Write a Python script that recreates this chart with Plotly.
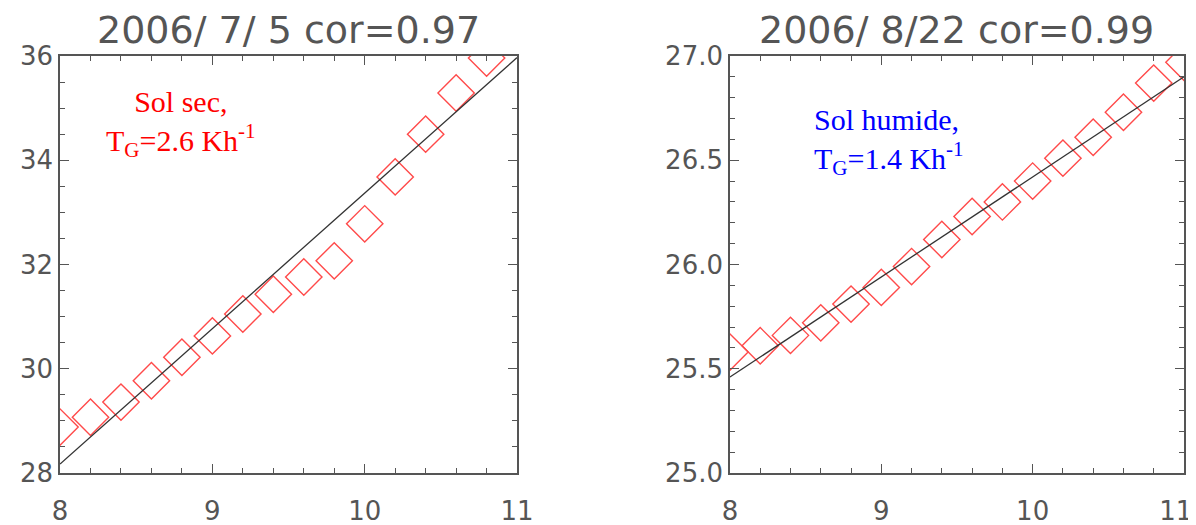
import numpy as np
import plotly.graph_objects as go
from plotly.subplots import make_subplots


## Datos
heures_sec = [8.0, 8.2, 8.4, 8.6, 8.8, 9.0, 9.2, 9.4, 9.6, 9.8, 10.0, 10.2, 10.4, 10.6, 10.8]
temp_sec = [28.88, 29.07, 29.36, 29.77, 30.22, 30.63, 31.05, 31.43, 31.76, 32.07, 32.78, 33.68, 34.50, 35.29, 35.96]
fit_x_sec = [8.0, 11.0]
fit_y_sec = [28.17, 35.97]

heures_hum = [8.0, 8.2, 8.4, 8.6, 8.8, 9.0, 9.2, 9.4, 9.6, 9.8, 10.0, 10.2, 10.4, 10.6, 10.8, 11.0]
temp_hum = [25.58, 25.61, 25.66, 25.72, 25.81, 25.89, 25.99, 26.12, 26.23, 26.30, 26.40, 26.51, 26.61, 26.73, 26.87, 26.97]
fit_x_hum = [8.0, 11.0]
fit_y_hum = [25.46, 26.90]

titres = ["2006/ 7/ 5 cor=0.97", "2006/ 8/22 cor=0.99"]
x_ticks = [8, 9, 10, 11]
# le dernier label colle au bord droit de l'image
x_labels_hum = ["8", "9", "10", "11\u00a0\u00a0"]
y_ticks_sec = [28, 30, 32, 34, 36]
y_ticks_hum = [25.0, 25.5, 26.0, 26.5, 27.0]

GRIS = '#555555'
ROUGE = '#ff4a4a'

# la page ajoute 8px de marge autour de la figure
W, H = 1188, 517


def add_panel(fig, col, x, y, fx, fy):
  fig.add_trace(go.Scatter(x=x, y=y, mode='markers',
                           marker=dict(symbol='diamond-open', size=28,
                                       color=ROUGE, line=dict(color=ROUGE, width=1.4))),
                row=1, col=col)
  fig.add_trace(go.Scatter(x=fx, y=fy, mode='lines',
                           line=dict(color='#333333', width=1.3)),
                row=1, col=col)


fig = make_subplots(rows=1, cols=2)
add_panel(fig, 1, heures_sec, temp_sec, fit_x_sec, fit_y_sec)
add_panel(fig, 2, heures_hum, temp_hum, fit_x_hum, fit_y_hum)

axe = dict(showgrid=False, zeroline=False, showline=True, linecolor=GRIS, linewidth=1.5,
           mirror='allticks', ticks='inside', ticklen=9, tickwidth=1.3, tickcolor=GRIS,
           automargin=False, ticklabeloverflow='allow',
           tickfont=dict(family='DejaVu Sans', size=26, color=GRIS))

fig.update_xaxes(axe, range=[8, 11], tickvals=x_ticks, ticklabelstandoff=14,
                 minor=dict(ticks='inside', ticklen=5, dtick=0.2, tickcolor=GRIS, showgrid=False))
fig.update_yaxes(axe, ticklabelstandoff=0)
fig.update_xaxes(domain=[0.0438, 0.4285], row=1, col=1)
fig.update_xaxes(domain=[0.6077, 0.9899], ticktext=x_labels_hum, row=1, col=2)
fig.update_yaxes(domain=[0.1006, 0.9072])
fig.update_yaxes(range=[28, 36], tickvals=y_ticks_sec,
                 minor=dict(ticks='inside', ticklen=5, dtick=0.5, tickcolor=GRIS, showgrid=False),
                 row=1, col=1)
fig.update_yaxes(range=[25, 27], tickvals=y_ticks_hum, tickformat='.1f',
                 minor=dict(ticks='inside', ticklen=5, dtick=0.1, tickcolor=GRIS, showgrid=False),
                 row=1, col=2)

# titres au-dessus de chaque panneau
for i, t in enumerate(titres):
  fig.add_annotation(text=t, xref='x%s domain' % ('' if i == 0 else '2'), yref='paper',
                     x=0.5, y=0.9574, xanchor='center', yanchor='middle', showarrow=False,
                     font=dict(family='DejaVu Sans', size=38, color=GRIS))

fig.add_annotation(text='Sol sec,<br>T<sub>G</sub>=2.6 Kh<sup>-1</sup>',
                   xref='x domain', yref='y domain', x=0.265, y=0.839,
                   xanchor='center', yanchor='middle',
                   showarrow=False, align='center',
                   font=dict(family='Liberation Serif', size=30, color='#ff0000'))
fig.add_annotation(text='Sol humide,<br>T<sub>G</sub>=1.4 Kh<sup>-1</sup>',
                   xref='x2 domain', yref='y2 domain', x=0.18, y=0.796,
                   xanchor='left', yanchor='middle',
                   showarrow=False, align='left',
                   font=dict(family='Liberation Serif', size=30, color='#0000ff'))

fig.update_layout(width=W, height=H, showlegend=False,
                  margin=dict(l=0, r=0, t=0, b=0),
                  paper_bgcolor='white', plot_bgcolor='white')

fig.write_html("out.html")
